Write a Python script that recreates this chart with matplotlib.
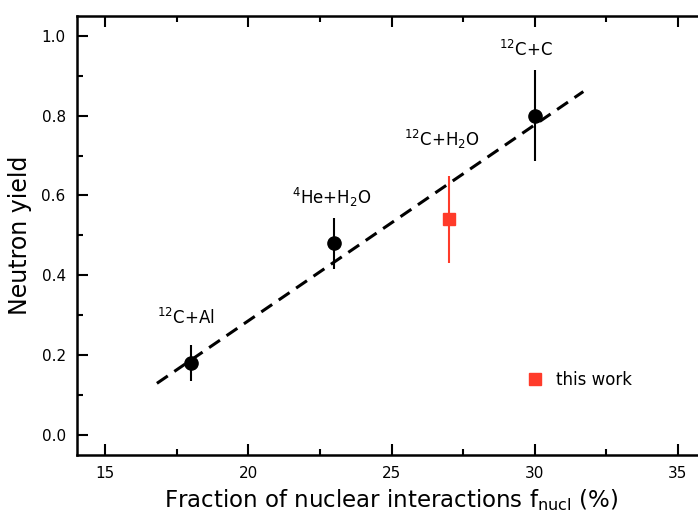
import matplotlib
matplotlib.use('Agg')
import matplotlib.pyplot as plt
from matplotlib.ticker import MultipleLocator

# reference data
ref_labels = [r'$^{12}$C+Al', r'$^{4}$He+H$_2$O', r'$^{12}$C+C']
ref_fnucl = [18, 23, 30]
ref_yield = [0.18, 0.48, 0.80]
ref_err = [0.045, 0.064, 0.113]

# this work
tw_label = r'$^{12}$C+H$_2$O'
tw_fnucl = [27]
tw_yield = [0.54]
tw_err = [0.11]

# linear trend line end points
fit_x = [16.8, 31.7]
fit_y = [0.13, 0.86]

plt.rcParams['mathtext.default'] = 'regular'
plt.rcParams['font.family'] = 'DejaVu Sans'

fig = plt.figure(figsize=(6.98, 5.13), dpi=100)
ax = fig.add_axes([0.110, 0.1125, 0.902, 0.857])

ax.plot(fit_x, fit_y, color='black', linestyle=(0, (4.3, 2.6)), linewidth=2.2, zorder=2)
ax.errorbar(ref_fnucl, ref_yield, yerr=ref_err, fmt='o', color='black',
            markersize=9.5, elinewidth=1.5, capsize=0, zorder=3)
ax.errorbar(tw_fnucl, tw_yield, yerr=tw_err, fmt='s', color='#ff3b2a',
            markersize=9, elinewidth=1.5, capsize=0, zorder=3)

# labels next to the points
label_pos = [(17.8, 0.294), (22.9, 0.594), (29.7, 0.964)]
for txt, (lx, ly) in zip(ref_labels, label_pos):
    ax.text(lx, ly, txt, fontsize=12, ha='center', va='center')
ax.text(26.77, 0.739, tw_label, fontsize=12, ha='center', va='center')

# legend entry
ax.plot([], [], 's', color='#ff3b2a', markersize=9, label='this work')
h, l = ax.get_legend_handles_labels()
ax.legend(h[-1:], l[-1:], loc='center left', bbox_to_anchor=(0.69, 0.172),
          frameon=False, fontsize=12, handlelength=1.0, handletextpad=0.8)

ax.set_xlim(14, 36)
ax.set_ylim(-0.05, 1.05)
ax.xaxis.set_major_locator(MultipleLocator(5))
ax.xaxis.set_minor_locator(MultipleLocator(2.5))
ax.yaxis.set_major_locator(MultipleLocator(0.2))
ax.yaxis.set_minor_locator(MultipleLocator(0.1))
ax.yaxis.set_major_formatter(plt.FormatStrFormatter('%.1f'))

ax.tick_params(which='both', direction='in', top=True, right=False, width=1.5,
               labelsize=11)
ax.tick_params(which='major', length=8, pad=8)
ax.tick_params(which='minor', length=4)
for s in ax.spines.values():
    s.set_linewidth(1.8)
ax.spines['right'].set_visible(False)

ax.set_xlabel(r'Fraction of nuclear interactions f$_{nucl}$ (%)', fontsize=16.5, labelpad=4)
ax.set_ylabel('Neutron yield', fontsize=17, labelpad=7)

fig.savefig('out.png', dpi=100)
